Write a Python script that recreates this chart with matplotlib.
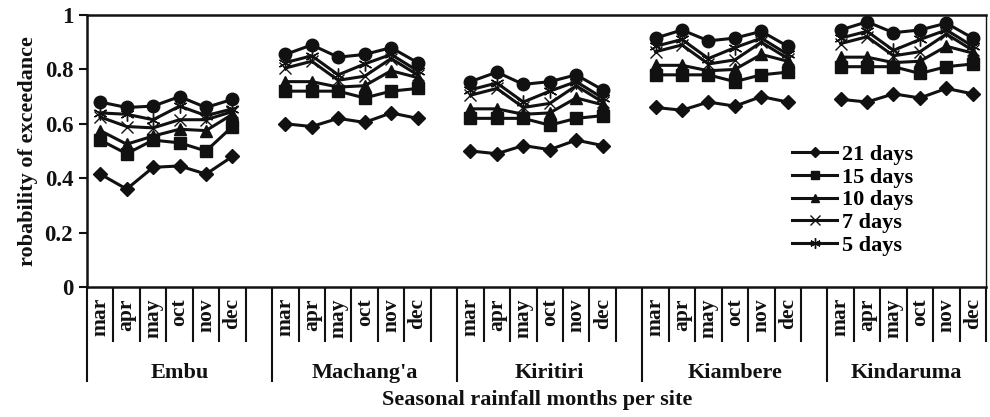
import numpy as np
import matplotlib
matplotlib.use('Agg')
import matplotlib.pyplot as plt

plt.rcParams['font.family'] = ['Liberation Serif', 'DejaVu Serif']
plt.rcParams['font.weight'] = 'bold'

sites = ['Embu', "Machang'a", 'Kiritiri', 'Kiambere', 'Kindaruma']
months = ['mar', 'apr', 'may', 'oct', 'nov', 'dec']

# one row per site, months in the order above
top_circle = [0.68, 0.66, 0.665, 0.70, 0.66, 0.69,       # Embu
              0.855, 0.89, 0.845, 0.855, 0.88, 0.825,    # Machang'a
              0.755, 0.79, 0.745, 0.755, 0.78, 0.725,    # Kiritiri
              0.915, 0.945, 0.905, 0.915, 0.94, 0.885,   # Kiambere
              0.945, 0.975, 0.935, 0.945, 0.97, 0.915]   # Kindaruma
days_5 = [0.64, 0.635, 0.615, 0.665, 0.63, 0.655,
          0.825, 0.85, 0.78, 0.82, 0.855, 0.795,
          0.725, 0.75, 0.68, 0.72, 0.755, 0.695,
          0.885, 0.91, 0.84, 0.88, 0.915, 0.855,
          0.915, 0.94, 0.87, 0.91, 0.945, 0.885]
days_7 = [0.625, 0.59, 0.585, 0.615, 0.615, 0.645,
          0.805, 0.83, 0.76, 0.775, 0.84, 0.78,
          0.705, 0.73, 0.66, 0.675, 0.74, 0.68,
          0.865, 0.89, 0.82, 0.835, 0.90, 0.84,
          0.895, 0.92, 0.85, 0.865, 0.93, 0.87]
days_10 = [0.575, 0.525, 0.555, 0.58, 0.575, 0.635,
           0.755, 0.755, 0.735, 0.74, 0.795, 0.77,
           0.655, 0.655, 0.635, 0.64, 0.695, 0.67,
           0.815, 0.815, 0.795, 0.80, 0.855, 0.83,
           0.845, 0.845, 0.825, 0.83, 0.885, 0.86]
days_15 = [0.54, 0.49, 0.54, 0.53, 0.50, 0.59,
           0.72, 0.72, 0.72, 0.695, 0.72, 0.73,
           0.62, 0.62, 0.62, 0.595, 0.62, 0.63,
           0.78, 0.78, 0.78, 0.755, 0.78, 0.79,
           0.81, 0.81, 0.81, 0.785, 0.81, 0.82]
days_21 = [0.415, 0.36, 0.44, 0.445, 0.415, 0.48,
           0.60, 0.59, 0.62, 0.605, 0.64, 0.62,
           0.50, 0.49, 0.52, 0.505, 0.54, 0.52,
           0.66, 0.65, 0.68, 0.665, 0.70, 0.68,
           0.69, 0.68, 0.71, 0.695, 0.73, 0.71]

INK = '#111111'
SLOTS = 7   # 6 months + one empty slot between sites
N_SLOTS = SLOTS * len(sites) - 1


def plot_series(ax, values, marker, ms, label, mew=1.0, filled=True):
    for g in range(len(sites)):
        x = g * SLOTS + np.arange(len(months)) + 0.5
        y = values[g * len(months):(g + 1) * len(months)]
        ax.plot(x, y, color=INK, lw=2.2, marker=marker, ms=ms,
                mfc=INK if filled else 'none', mec=INK, mew=mew,
                label=label if g == 0 else '_nolegend_')


def main():
    fig = plt.figure(figsize=(9.9, 4.17), dpi=100)
    ax = fig.add_axes([0.0879, 0.3118, 0.9081, 0.6522])

    plot_series(ax, top_circle, 'o', 9, '_nolegend_')
    plot_series(ax, days_21, 'D', 7, '21 days')
    plot_series(ax, days_15, 's', 8, '15 days')
    plot_series(ax, days_10, '^', 8.5, '10 days')
    plot_series(ax, days_7, 'x', 9, '7 days', mew=1.0)
    plot_series(ax, days_5, (6, 2, 0), 10, '5 days', mew=1.0)

    ax.set_xlim(0, N_SLOTS)
    ax.set_ylim(0, 1)
    ax.set_yticks(np.arange(0, 1.01, 0.2))
    ax.set_yticklabels(['0', '0.2', '0.4', '0.6', '0.8', '1'])
    ax.tick_params(axis='y', direction='out', length=6, width=1.5,
                   labelsize=16.5, pad=4, colors=INK)

    # month labels under each site
    centers = []
    for g in range(len(sites)):
        centers += list(g * SLOTS + np.arange(len(months)) + 0.5)
    ax.set_xticks(centers)
    ax.set_xticklabels(months * len(sites), rotation=90, fontsize=15.5)
    ax.tick_params(axis='x', length=0, pad=8, colors=INK)

    trans = ax.get_xaxis_transform()
    starts = [g * SLOTS for g in range(len(sites))]
    short = [b for b in range(1, N_SLOTS + 1) if b not in starts]
    ax.vlines(short, -0.202, 0, color=INK, lw=1.5, transform=trans, clip_on=False)
    ax.vlines(starts, -0.35, 0, color=INK, lw=1.5, transform=trans, clip_on=False)
    for g, name in enumerate(sites):
        mid = (starts[g] + min(starts[g] + SLOTS, N_SLOTS)) / 2
        ax.text(mid, -0.316, name, transform=trans, ha='center', va='center',
                fontsize=16, color=INK)

    fig.text(0.5425, 0.041, 'Seasonal rainfall months per site', ha='center',
             va='center', fontsize=16, color=INK)
    fig.text(0.028, 0.638, 'robability of exceedance', rotation=90,
             ha='center', va='center', fontsize=16, color=INK)

    for side in ['left', 'bottom', 'top']:
        ax.spines[side].set_linewidth(1.8)
        ax.spines[side].set_color(INK)
    ax.spines['right'].set_linewidth(1.0)
    ax.spines['right'].set_color(INK)

    ax.legend(loc='upper left', bbox_to_anchor=(0.784, 0.525), frameon=False,
              fontsize=16, handlelength=2.05, handletextpad=0.2,
              labelspacing=0.1, borderpad=0, borderaxespad=0, markerscale=0.75)

    fig.savefig('out.png', dpi=100)


if __name__ == '__main__':
    main()
